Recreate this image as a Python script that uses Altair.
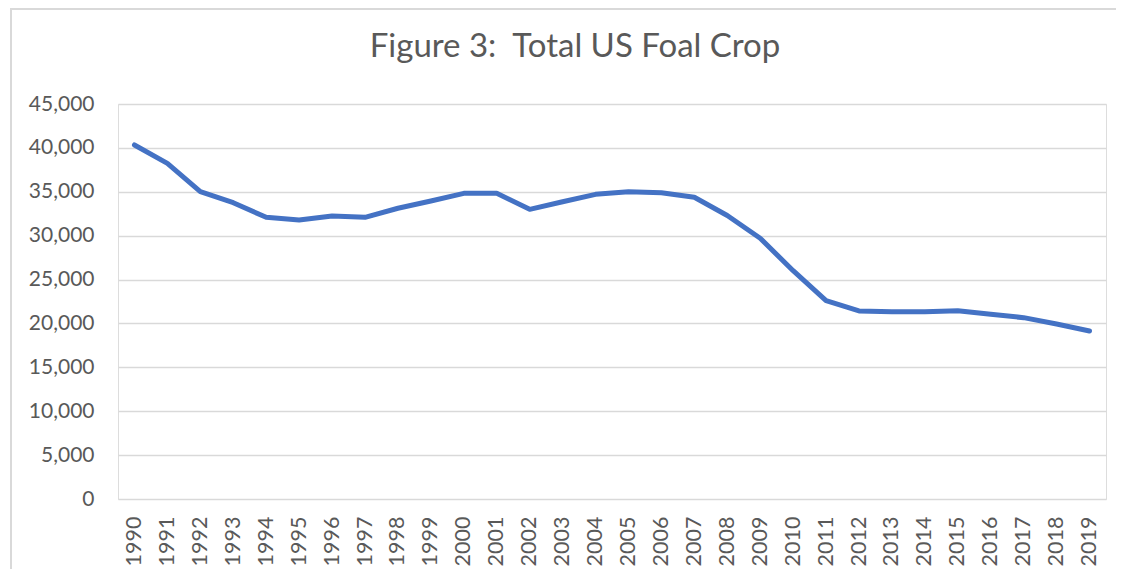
import altair as alt
import pandas as pd

years = [str(y) for y in range(1990, 2020)]
foals = [40330, 38240, 35010, 33760, 32090, 31780, 32240, 32090, 33120, 33950,
         34820, 34820, 33000, 33870, 34710, 35010, 34900, 34370, 32300, 29700,
         26010, 22600, 21420, 21340, 21340, 21450, 21040, 20660, 19940, 19140]
y_ticks = list(range(0, 45001, 5000))
title_text = ["Figure 3:\u00a0 Total US Foal Crop"]

df = pd.DataFrame({"year": years, "foals": foals})
one = pd.DataFrame({"k": [0]})
tdf = pd.DataFrame({"t": title_text})

FONT = "Lato"
GRAY = "#595959"
BORDER = "#D9D9D9"

line = alt.Chart(df).mark_line(
    color="#4472C4", strokeWidth=5, strokeCap="round", strokeJoin="round"
).encode(
    x=alt.X("year:O", sort=years,
            scale=alt.Scale(type="point", padding=0.5),
            axis=alt.Axis(title=None, labelAngle=-90, labelFontSize=21.5, labelColor=GRAY,
                          labelFont=FONT, ticks=False, domain=False, grid=False,
                          labelPadding=17)),
    y=alt.Y("foals:Q",
            scale=alt.Scale(domain=[0, 45000], nice=False),
            axis=alt.Axis(title=None, values=y_ticks, format=",d",
                          labelFontSize=21, labelColor=GRAY, labelFont=FONT,
                          ticks=False, domain=False, gridColor="#D9D9D9", gridWidth=1.3,
                          labelPadding=24)),
)

# chart title as a text mark (centered over the chart area, as in the reference)
title = alt.Chart(tdf).mark_text(
    font=FONT, fontSize=33, color=GRAY, align="center", baseline="middle"
).encode(text="t:N", x=alt.value(457), y=alt.value(-57))

# chart-area frame (top and left edges visible in the reference)
frame_top = alt.Chart(one).mark_rule(color=BORDER, strokeWidth=2).encode(
    x=alt.value(-108), x2=alt.value(1010), y=alt.value(-95))
frame_left = alt.Chart(one).mark_rule(color=BORDER, strokeWidth=2).encode(
    x=alt.value(-107), y=alt.value(-96), y2=alt.value(475))

chart = alt.layer(line, title, frame_top, frame_left).properties(
    width=988, height=395,
    autosize=alt.AutoSizeParams(type="none"),
    padding={"left": 110, "top": 96, "right": 10, "bottom": 70},
).configure_view(stroke=None).configure(background="white")

chart.save("out.html", embed_options={"renderer": "svg", "actions": False})
